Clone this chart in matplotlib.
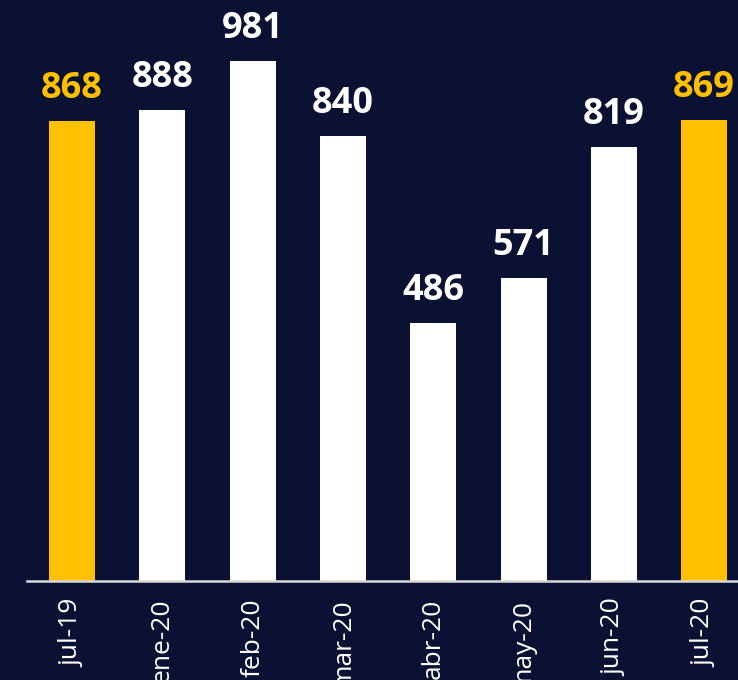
import matplotlib.pyplot as plt

months = ['jul-19', 'ene-20', 'feb-20', 'mar-20', 'abr-20', 'may-20', 'jun-20', 'jul-20']
values = [868, 888, 981, 840, 486, 571, 819, 869]
highlight = ['jul-19', 'jul-20']

BG = '#0a1133'
GOLD = '#ffc000'

plt.rcParams['font.family'] = ['Open Sans', 'DejaVu Sans']

fig = plt.figure(figsize=(7.38, 6.8), dpi=100, facecolor=BG)
ax = fig.add_axes([27 / 738, 99.5 / 680, 1 - 27 / 738, 580.5 / 680])
ax.set_facecolor(BG)

colors = [GOLD if m in highlight else 'white' for m in months]
x = range(len(months))
bars = ax.bar(x, values, width=0.51, color=colors)

for b, v, c in zip(bars, values, colors):
    ax.annotate(str(v), (b.get_x() + b.get_width() / 2, v), xytext=(0, 10),
                textcoords='offset points', ha='center', va='bottom',
                fontsize=26, fontweight='bold', color=c, annotation_clip=False)

ax.set_xlim(-0.5, 7.375)
ax.set_ylim(0, 1096)
ax.set_xticks(list(x))
ax.set_xticklabels(months, rotation=90, fontsize=19, color='white')
ax.tick_params(axis='x', length=0, pad=13)
ax.set_yticks([])
for s in ['top', 'right', 'left']:
    ax.spines[s].set_visible(False)
ax.spines['bottom'].set_color('#d9d9d9')
ax.spines['bottom'].set_linewidth(1.8)

fig.savefig('out.png', dpi=100, facecolor=BG)
